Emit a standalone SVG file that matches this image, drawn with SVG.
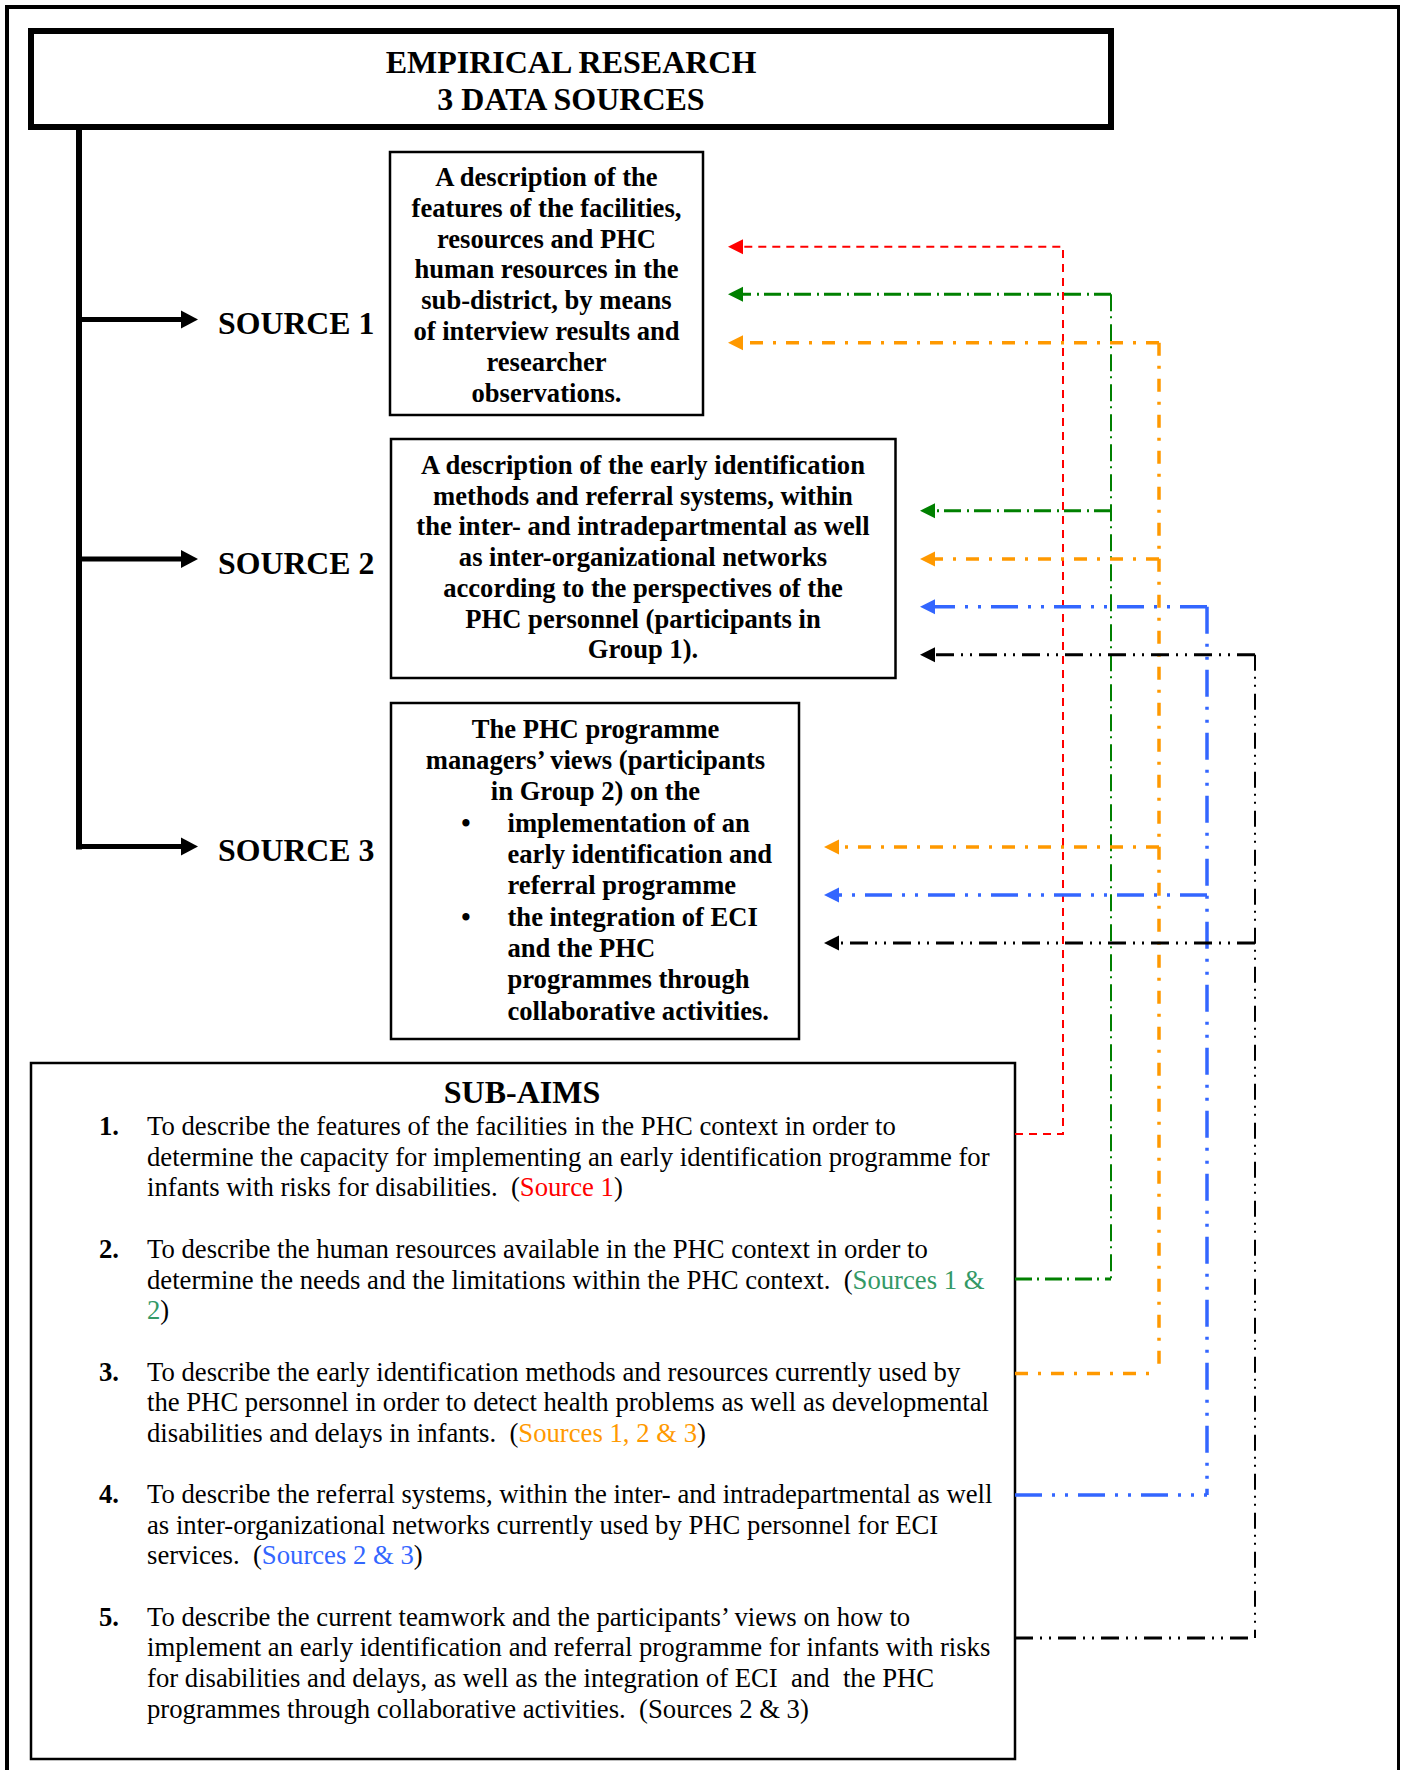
<svg xmlns="http://www.w3.org/2000/svg" width="1404" height="1770" viewBox="0 0 1404 1770">
  <defs>
    <style>
      .t{font-family:"Liberation Serif","Times New Roman",serif;font-size:26.6px;fill:#000;white-space:pre}
      .s{font-size:26.7px}
      .b{font-weight:bold}
      .c{text-anchor:middle}
      .h{font-size:32px;font-weight:bold}
      .src{font-size:31.8px;font-weight:bold}
      .box{fill:#fff;stroke:#000;stroke-width:2.5}
      .ln{fill:none;stroke-linecap:butt}
      .red{stroke:#ff0000;stroke-width:2;stroke-dasharray:8 6}
      .grn{stroke:#008000;stroke-width:2;stroke-dasharray:17 5 2 6}
      .grnH{stroke:#008000;stroke-width:3;stroke-dasharray:17 5 2 6}
      .org{stroke:#ff9900;stroke-width:3.5;stroke-dasharray:13 10 3 10}
      .blu{stroke:#3366ff;stroke-width:3.5;stroke-dasharray:27 10 3 10 3 10}
      .blk{stroke:#000;stroke-width:2;stroke-dasharray:16 6 2 6 2 7}
      .blkH{stroke:#000;stroke-width:3;stroke-dasharray:18 7 2 7 2 7}
      .cR{fill:#ff0000}.cG{fill:#339966}.cO{fill:#ff9900}.cB{fill:#3366ff}
    </style>
    <marker id="ahR" markerUnits="userSpaceOnUse" markerWidth="16" markerHeight="16" refX="0" refY="7.5" orient="auto" overflow="visible"><path d="M0,0 L15,7.5 L0,15 z" fill="#ff0000"/></marker>
    <marker id="ahG" markerUnits="userSpaceOnUse" markerWidth="16" markerHeight="16" refX="0" refY="7.5" orient="auto" overflow="visible"><path d="M0,0 L15,7.5 L0,15 z" fill="#008000"/></marker>
    <marker id="ahO" markerUnits="userSpaceOnUse" markerWidth="16" markerHeight="16" refX="0" refY="7.5" orient="auto" overflow="visible"><path d="M0,0 L15,7.5 L0,15 z" fill="#ff9900"/></marker>
    <marker id="ahB" markerUnits="userSpaceOnUse" markerWidth="16" markerHeight="16" refX="0" refY="7.5" orient="auto" overflow="visible"><path d="M0,0 L15,7.5 L0,15 z" fill="#3366ff"/></marker>
    <marker id="ahK" markerUnits="userSpaceOnUse" markerWidth="16" markerHeight="16" refX="0" refY="7.5" orient="auto" overflow="visible"><path d="M0,0 L15,7.5 L0,15 z" fill="#000"/></marker>
    <marker id="ahT" markerUnits="userSpaceOnUse" markerWidth="18" markerHeight="18" refX="0" refY="9" orient="auto" overflow="visible"><path d="M0,0 L17,9 L0,18 z" fill="#000"/></marker>
  </defs>

  <rect width="1404" height="1770" fill="#fff"/>

  <!-- page frame -->
  <g id="frame" fill="none" stroke="#000">
    <line x1="7" y1="5" x2="7" y2="1770" stroke-width="4"/>
    <line x1="5" y1="7" x2="1400" y2="7" stroke-width="4"/>
    <line x1="1398.5" y1="5" x2="1398.5" y2="1770" stroke-width="3"/>
  </g>

  <!-- title -->
  <g id="title">
    <rect x="31" y="31" width="1080" height="96" fill="#fff" stroke="#000" stroke-width="6"/>
    <text class="t h c" x="571" y="72.5">EMPIRICAL RESEARCH</text>
    <text class="t h c" x="571" y="110">3 DATA SOURCES</text>
  </g>

  <!-- trunk with the three source branches -->
  <g id="trunk" fill="none" stroke="#000" stroke-width="6">
    <line x1="79" y1="127" x2="79" y2="849.5"/>
    <path d="M76,319.5 H181" stroke-width="5" marker-end="url(#ahT)"/>
    <path d="M76,559 H181" stroke-width="5" marker-end="url(#ahT)"/>
    <path d="M76,846.5 H181" stroke-width="5" marker-end="url(#ahT)"/>
  </g>

  <g id="source1">
    <text class="t src" x="218" y="334">SOURCE 1</text>
    <rect class="box" x="390" y="152" width="313" height="263"/>
    <text class="t b c" x="546.5" y="186">A description of the</text>
    <text class="t b c" x="546.5" y="216.8">features of the facilities,</text>
    <text class="t b c" x="546.5" y="247.6">resources and PHC</text>
    <text class="t b c" x="546.5" y="278.4">human resources in the</text>
    <text class="t b c" x="546.5" y="309.2">sub-district, by means</text>
    <text class="t b c" x="546.5" y="340">of interview results and</text>
    <text class="t b c" x="546.5" y="370.8">researcher</text>
    <text class="t b c" x="546.5" y="401.6">observations.</text>
  </g>

  <g id="source2">
    <text class="t src" x="218" y="573.5">SOURCE 2</text>
    <rect class="box" x="391" y="439" width="504.5" height="239"/>
    <text class="t b c" x="643" y="474">A description of the early identification</text>
    <text class="t b c" x="643" y="504.7">methods and referral systems, within</text>
    <text class="t b c" x="643" y="535.4">the inter- and intradepartmental as well</text>
    <text class="t b c" x="643" y="566.1">as inter-organizational networks</text>
    <text class="t b c" x="643" y="596.8">according to the perspectives of the</text>
    <text class="t b c" x="643" y="627.5">PHC personnel (participants in</text>
    <text class="t b c" x="643" y="658.2">Group 1).</text>
  </g>

  <g id="source3">
    <text class="t src" x="218" y="861">SOURCE 3</text>
    <rect class="box" x="391" y="703" width="408" height="336"/>
    <text class="t b c" x="595.5" y="737.5">The PHC programme</text>
    <text class="t b c" x="595.5" y="768.9">managers’ views (participants</text>
    <text class="t b c" x="595.5" y="800.2">in Group 2) on the</text>
    <text class="t b c" x="466" y="831.6">•</text>
    <text class="t b" x="507.5" y="831.6">implementation of an</text>
    <text class="t b" x="507.5" y="862.9">early identification and</text>
    <text class="t b" x="507.5" y="894.3">referral programme</text>
    <text class="t b c" x="466" y="925.6">•</text>
    <text class="t b" x="507.5" y="925.6">the integration of ECI</text>
    <text class="t b" x="507.5" y="957">and the PHC</text>
    <text class="t b" x="507.5" y="988.3">programmes through</text>
    <text class="t b" x="507.5" y="1019.7">collaborative activities.</text>
  </g>

  <g id="subaims">
    <rect class="box" x="31" y="1063" width="984" height="696"/>
    <text class="t h c" x="522" y="1103">SUB-AIMS</text>
    <text class="t s b" x="99" y="1135">1.</text>
    <text class="t s" x="147" y="1135">To describe the features of the facilities in the PHC context in order to</text>
    <text class="t s" x="147" y="1165.7">determine the capacity for implementing an early identification programme for</text>
    <text class="t s" x="147" y="1196.4">infants with risks for disabilities.  (<tspan class="cR">Source 1</tspan>)</text>
    <text class="t s b" x="99" y="1258">2.</text>
    <text class="t s" x="147" y="1258">To describe the human resources available in the PHC context in order to</text>
    <text class="t s" x="147" y="1288.7">determine the needs and the limitations within the PHC context.  (<tspan class="cG">Sources 1 &amp;</tspan></text>
    <text class="t s" x="147" y="1319.4"><tspan class="cG">2</tspan>)</text>
    <text class="t s b" x="99" y="1380.5">3.</text>
    <text class="t s" x="147" y="1380.5">To describe the early identification methods and resources currently used by</text>
    <text class="t s" x="147" y="1411.2">the PHC personnel in order to detect health problems as well as developmental</text>
    <text class="t s" x="147" y="1441.9">disabilities and delays in infants.  (<tspan class="cO">Sources 1, 2 &amp; 3</tspan>)</text>
    <text class="t s b" x="99" y="1503">4.</text>
    <text class="t s" x="147" y="1503">To describe the referral systems, within the inter- and intradepartmental as well</text>
    <text class="t s" x="147" y="1533.7">as inter-organizational networks currently used by PHC personnel for ECI</text>
    <text class="t s" x="147" y="1564.4">services.  (<tspan class="cB">Sources 2 &amp; 3</tspan>)</text>
    <text class="t s b" x="99" y="1625.5">5.</text>
    <text class="t s" x="147" y="1625.5">To describe the current teamwork and the participants’ views on how to</text>
    <text class="t s" x="147" y="1656.2">implement an early identification and referral programme for infants with risks</text>
    <text class="t s" x="147" y="1686.9">for disabilities and delays, as well as the integration of ECI  and  the PHC</text>
    <text class="t s" x="147" y="1717.6">programmes through collaborative activities.  (Sources 2 &amp; 3)</text>
  </g>

  <!-- links from each sub-aim to the sources it draws on -->
  <g id="connectors" class="ln">
    <g id="link-aim1">
      <path class="ln red" d="M1015,1134 H1063 V246.7 H743" marker-end="url(#ahR)"/>
    </g>
    <g id="link-aim2">
      <path class="ln grn" d="M1111,294.3 V1279"/>
      <path class="ln grnH" d="M1015,1279 H1111"/>
      <path class="ln grnH" d="M1111,294.3 H743" marker-end="url(#ahG)"/>
      <path class="ln grnH" d="M1111,510.7 H935" marker-end="url(#ahG)"/>
    </g>
    <g id="link-aim3">
      <path class="ln org" d="M1159,342.7 V1373.5"/>
      <path class="ln org" d="M1015,1373.5 H1159"/>
      <path class="ln org" d="M1159,342.7 H743" marker-end="url(#ahO)"/>
      <path class="ln org" d="M1159,559 H935" marker-end="url(#ahO)"/>
      <path class="ln org" d="M1159,847 H839" marker-end="url(#ahO)"/>
    </g>
    <g id="link-aim4">
      <path class="ln blu" d="M1207,606.7 V1495"/>
      <path class="ln blu" d="M1015,1495 H1207"/>
      <path class="ln blu" d="M1207,606.7 H935" marker-end="url(#ahB)"/>
      <path class="ln blu" d="M1207,895 H839" marker-end="url(#ahB)"/>
    </g>
    <g id="link-aim5">
      <path class="ln blk" d="M1255,654.7 V1638"/>
      <path class="ln blkH" d="M1015,1638 H1255"/>
      <path class="ln blkH" d="M1255,654.7 H935" marker-end="url(#ahK)"/>
      <path class="ln blkH" d="M1255,943 H839" marker-end="url(#ahK)"/>
    </g>
  </g>
</svg>
